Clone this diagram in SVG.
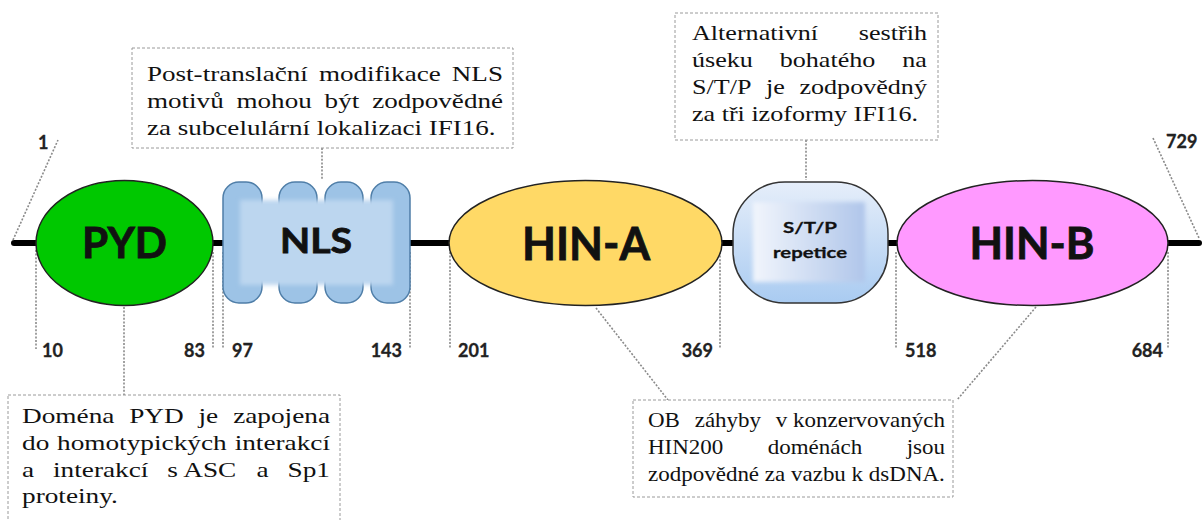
<svg xmlns="http://www.w3.org/2000/svg" width="1204" height="520" viewBox="0 0 1204 520">
<style>
.dom{stroke:#222;stroke-width:1.5}
.lbl{font-family:Lato,"Open Sans","Liberation Sans",sans-serif;font-weight:bold;fill:#111;stroke:#111;stroke-width:0.8}
.num{font-family:Lato,"Open Sans","Liberation Sans",sans-serif;font-weight:bold;font-size:18px;fill:#222;stroke:#222;stroke-width:0.3}
.dot{stroke:#8a8a8a;stroke-width:1.6;stroke-dasharray:2 1.6;fill:none}
.box{fill:#fff;stroke:#9a9a9a;stroke-width:1;stroke-dasharray:3 2}
.txt{font-family:"Liberation Serif","Times New Roman",serif;font-size:22px;fill:#111}
.e{text-anchor:end}
</style>
<defs>
<linearGradient id="stpG" x1="0" y1="0" x2="0" y2="1">
<stop offset="0" stop-color="#e6eefa"/>
<stop offset="1" stop-color="#a9cbf1"/>
</linearGradient>
<linearGradient id="stpIn" x1="0" y1="0" x2="1" y2="0">
<stop offset="0" stop-color="#f1f5fc"/>
<stop offset="1" stop-color="#b0c6ea"/>
</linearGradient>
<filter id="soft" x="-10%" y="-10%" width="120%" height="120%">
<feGaussianBlur stdDeviation="2"/>
</filter>
</defs>

<g id="connectors">
<line x1="14" y1="243" x2="1199" y2="243" stroke="#000" stroke-width="6" stroke-linecap="round"/>
<line class="dot" x1="13" y1="240" x2="58" y2="140"/>
<line class="dot" x1="1153" y1="138" x2="1199" y2="238"/>
<line class="dot" x1="36" y1="250" x2="36" y2="349"/>
<line class="dot" x1="213" y1="252" x2="213" y2="349"/>
<line class="dot" x1="223" y1="252" x2="223" y2="349"/>
<line class="dot" x1="410" y1="252" x2="410" y2="349"/>
<line class="dot" x1="450" y1="252" x2="450" y2="349"/>
<line class="dot" x1="720" y1="252" x2="720" y2="349"/>
<line class="dot" x1="896" y1="252" x2="896" y2="349"/>
<line class="dot" x1="1168" y1="252" x2="1168" y2="349"/>
<line class="dot" x1="124" y1="307" x2="124" y2="395"/>
<line class="dot" x1="322" y1="148" x2="322" y2="180"/>
<line class="dot" x1="806" y1="140" x2="806" y2="180"/>
<line class="dot" x1="596" y1="308" x2="668" y2="400"/>
<line class="dot" x1="1036" y1="307" x2="957" y2="400"/>
</g>

<g id="pyd">
<ellipse class="dom" cx="124.5" cy="243" rx="88.5" ry="62.5" fill="#00c800"/>
<text class="lbl" x="124.5" y="258" font-size="42" text-anchor="middle" textLength="85" lengthAdjust="spacingAndGlyphs">PYD</text>
</g>

<g id="nls">
<rect x="223" y="182" width="39" height="121" rx="16" fill="#9dc3e6" stroke="#4f7ea8" stroke-width="1.5"/>
<rect x="279" y="182" width="38" height="121" rx="16" fill="#9dc3e6" stroke="#4f7ea8" stroke-width="1.5"/>
<rect x="325" y="182" width="38" height="121" rx="16" fill="#9dc3e6" stroke="#4f7ea8" stroke-width="1.5"/>
<rect x="371" y="182" width="39" height="121" rx="16" fill="#9dc3e6" stroke="#4f7ea8" stroke-width="1.5"/>
<rect x="240" y="200" width="153" height="85" fill="#bcd6ef" filter="url(#soft)"/>
<text class="lbl" x="316" y="253" font-size="35" text-anchor="middle" textLength="72" lengthAdjust="spacingAndGlyphs">NLS</text>
</g>

<g id="hin-a">
<ellipse class="dom" cx="585.5" cy="243" rx="136.5" ry="62.5" fill="#ffd966"/>
<text class="lbl" x="586" y="260" font-size="46" text-anchor="middle" textLength="128" lengthAdjust="spacingAndGlyphs">HIN-A</text>
</g>

<g id="stp">
<rect x="733" y="182" width="155" height="121" rx="52" ry="52" fill="url(#stpG)" stroke="#333" stroke-width="1.5"/>
<rect x="753" y="202" width="112" height="80" fill="url(#stpIn)" filter="url(#soft)"/>
<text class="lbl" x="810" y="233" font-size="16" text-anchor="middle" textLength="54" lengthAdjust="spacingAndGlyphs" style="stroke-width:0.3">S/T/P</text>
<text class="lbl" x="810" y="258" font-size="16" text-anchor="middle" textLength="74" lengthAdjust="spacingAndGlyphs" style="stroke-width:0.3">repetice</text>
</g>

<g id="hin-b">
<ellipse class="dom" cx="1032.5" cy="243" rx="135.5" ry="62.5" fill="#ff99ff"/>
<text class="lbl" x="1032" y="259" font-size="44" text-anchor="middle" textLength="125" lengthAdjust="spacingAndGlyphs">HIN-B</text>
</g>

<g id="positions">
<text class="num" x="38" y="149">1</text>
<text class="num" x="1166" y="148">729</text>
<text class="num" x="42" y="357">10</text>
<text class="num e" x="205" y="357">83</text>
<text class="num" x="232" y="357">97</text>
<text class="num e" x="402" y="357">143</text>
<text class="num" x="458" y="357">201</text>
<text class="num e" x="713" y="357">369</text>
<text class="num" x="905" y="357">518</text>
<text class="num e" x="1163" y="357">684</text>
</g>

<g id="note-nls">
<rect class="box" x="132" y="48" width="381" height="100"/>
<g class="txt" transform="translate(147 0) scale(1.23 1)">
<text x="0" y="81">Post-translační</text>
<text x="139.8" y="81">modifikace</text>
<text class="e" x="289.4" y="81">NLS</text>
<text x="0" y="108">motivů</text>
<text x="72.8" y="108">mohou</text>
<text x="144.4" y="108">být</text>
<text class="e" x="289.4" y="108">zodpovědné</text>
<text x="0" y="135">za subcelulární lokalizaci IFI16.</text>
</g>
</g>

<g id="note-stp">
<rect class="box" x="675" y="13" width="263" height="127"/>
<g class="txt" transform="translate(692 0) scale(1.186 1)">
<text x="0" y="40">Alternativní</text>
<text class="e" x="198.1" y="40">sestřih</text>
<text x="0" y="67">úseku</text>
<text x="73.95" y="67">bohatého</text>
<text class="e" x="198.1" y="67">na</text>
<text x="0" y="94">S/T/P</text>
<text x="62.4" y="94">je</text>
<text class="e" x="198.1" y="94">zodpovědný</text>
<text x="0" y="121">za tři izoformy IFI16.</text>
</g>
</g>

<g id="note-pyd">
<rect class="box" x="8" y="395" width="332" height="140"/>
<g class="txt" transform="translate(22 0) scale(1.24 1)">
<text x="0" y="423">Doména</text>
<text x="86.4" y="423">PYD</text>
<text x="142.3" y="423">je</text>
<text class="e" x="248.4" y="423">zapojena</text>
<text x="0" y="450">do</text>
<text x="28.25" y="450">homotypických</text>
<text class="e" x="248.4" y="450">interakcí</text>
<text x="0" y="477">a</text>
<text x="25" y="477">interakcí</text>
<text x="117.2" y="477">s ASC</text>
<text x="189.2" y="477">a</text>
<text class="e" x="248.4" y="477">Sp1</text>
<text x="0" y="503">proteiny.</text>
</g>
</g>

<g id="note-hin">
<rect class="box" x="633" y="400" width="320" height="97"/>
<g class="txt" transform="translate(648 0) scale(1.045 1)">
<text x="0" y="427">OB</text>
<text x="44.7" y="427">záhyby</text>
<text class="e" x="284.2" y="427">v konzervovaných</text>
<text x="0" y="454">HIN200</text>
<text x="114.6" y="454">doménách</text>
<text class="e" x="284.2" y="454">jsou</text>
<text x="0" y="481">zodpovědné za vazbu k dsDNA.</text>
</g>
</g>
</svg>
